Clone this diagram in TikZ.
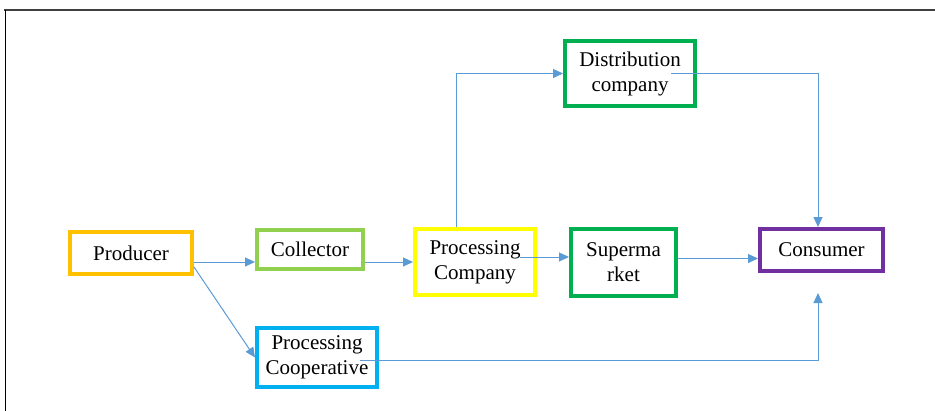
\documentclass[tikz,border=0pt]{standalone}
\usepackage{fontspec}
\setmainfont{Liberation Serif}
\usetikzlibrary{arrows.meta}
\definecolor{prodorange}{HTML}{FFC000}
\definecolor{collgreen}{HTML}{92D050}
\definecolor{coopblue}{HTML}{00B0F0}
\definecolor{compyellow}{HTML}{FFFF00}
\definecolor{darkgreen}{HTML}{00B050}
\definecolor{conspurple}{HTML}{7030A0}
\definecolor{flowblue}{HTML}{5B9BD5}
\definecolor{framegray}{HTML}{404040}
\tikzset{
  stage/.style={draw=#1, line width=2pt, align=center, inner sep=0pt,
    font=\fontsize{10.5}{12.5}\selectfont},
  flow/.style={draw=flowblue, line width=0.5pt, -{Triangle[length=5pt,width=4.5pt]}}
}

\begin{document}
\begin{tikzpicture}[x=0.5pt, y=-0.5pt]
        \useasboundingbox (0,0) rectangle (935,411);
        % frame
        \draw[framegray, line width=1pt] (4,10) -- (935,10);
        \draw[line width=0.5pt] (5,10) -- (5,411);
        % stages
        \node[stage=prodorange, minimum width=61pt, minimum height=21pt] (producer) at (131,253) {Producer};
        \node[stage=collgreen, minimum width=53pt, minimum height=19.5pt] (collector) at (310,249.5) {Collector};
        \node[stage=coopblue, minimum width=60pt, minimum height=29.5pt] (coop) at (317,357.5) {Processing\\Cooperative};
        \node[stage=compyellow, minimum width=60pt, minimum height=33pt] (company) at (475,262) {Processing\\Company};
        \node[stage=darkgreen, minimum width=65pt, minimum height=32.5pt] (distrib) at (630,73.5) {Distribution\\company};
        \node[stage=darkgreen, minimum width=52.5pt, minimum height=33.5pt] (market) at (623.5,262.5) {Superma\\rket};
        \node[stage=conspurple, minimum width=61.5pt, minimum height=21pt] (consumer) at (821.5,250) {Consumer};
        % flows
        \coordinate (a1) at ([yshift=-4.5pt]producer.east);
        \draw[flow] (a1) -- (a1 -| collector.west);
        \draw[flow] ([yshift=-7pt]producer.east) -- (coop.west);
        \draw[flow] (collector.east |- company.west) -- (company.west);
        \draw[flow] ([xshift=-9.5pt]company.north) |- (distrib.west);
        \coordinate (a5) at ([shift={(22.5pt,2.5pt)}]company.center);
        \draw[flow] (a5) -- (a5 -| market.west);
        \draw[flow] ([xshift=20.5pt]distrib.center) -| ([xshift=-1.75pt]consumer.north);
        \coordinate (a7) at ([yshift=2pt]market.east);
        \draw[flow] (a7) -- (a7 -| consumer.west);
        \coordinate (a8) at ([shift={(21.5pt,-1.25pt)}]coop.center);
        \draw[flow] (a8) -| ([shift={(-1.75pt,-10pt)}]consumer.south);
\end{tikzpicture}
\end{document}
